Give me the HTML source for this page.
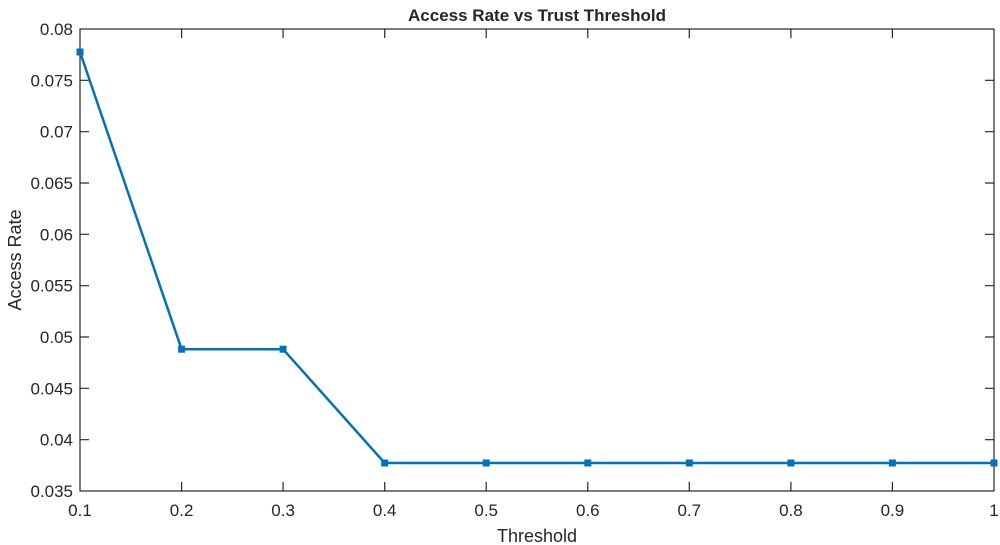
<!DOCTYPE html>
<html><head><style>body{margin:0;background:#fff}svg{display:block}text{font-family:"Liberation Sans",Arial,sans-serif;fill:#262626}</style></head>
<body>
<svg width="1000" height="545" xmlns="http://www.w3.org/2000/svg">
<rect width="1000" height="545" fill="#fff"/>
<g stroke="#262626" stroke-width="1.2" fill="none">
<rect x="80" y="29" width="914" height="462"/>
<!-- x ticks -->
<g id="xt">
<path d="M181.6 491v-9M283.1 491v-9M384.7 491v-9M486.2 491v-9M587.8 491v-9M689.3 491v-9M790.9 491v-9M892.4 491v-9"/>
<path d="M181.6 29v9M283.1 29v9M384.7 29v9M486.2 29v9M587.8 29v9M689.3 29v9M790.9 29v9M892.4 29v9"/>
<path d="M80 80.3h9M80 131.7h9M80 183h9M80 234.3h9M80 285.7h9M80 337h9M80 388.3h9M80 439.7h9"/>
<path d="M994 80.3h-9M994 131.7h-9M994 183h-9M994 234.3h-9M994 285.7h-9M994 337h-9M994 388.3h-9M994 439.7h-9"/>
</g>
</g>
<g font-size="17" text-anchor="middle">
<text x="80" y="516">0.1</text><text x="181.6" y="516">0.2</text><text x="283.1" y="516">0.3</text><text x="384.7" y="516">0.4</text><text x="486.2" y="516">0.5</text><text x="587.8" y="516">0.6</text><text x="689.3" y="516">0.7</text><text x="790.9" y="516">0.8</text><text x="892.4" y="516">0.9</text><text x="994" y="516">1</text>
</g>
<g font-size="17" text-anchor="end">
<text x="73" y="35">0.08</text><text x="73" y="86.3">0.075</text><text x="73" y="137.7">0.07</text><text x="73" y="189">0.065</text><text x="73" y="240.3">0.06</text><text x="73" y="291.7">0.055</text><text x="73" y="343">0.05</text><text x="73" y="394.3">0.045</text><text x="73" y="445.7">0.04</text><text x="73" y="497">0.035</text>
</g>
<text x="537" y="542" font-size="18" text-anchor="middle">Threshold</text>
<text transform="translate(21,260) rotate(-90)" font-size="18" text-anchor="middle">Access Rate</text>
<text x="537" y="21" font-size="17" font-weight="bold" text-anchor="middle" fill="#000">Access Rate vs Trust Threshold</text>
<polyline fill="none" stroke="#0072BD" stroke-width="2.5" points="80,52 181.6,349.2 283.1,349.2 384.7,463 486.2,463 587.8,463 689.3,463 790.9,463 892.4,463 994,463"/>
<g fill="#0072BD">
<rect x="76.5" y="48.5" width="7" height="7"/><rect x="178.1" y="345.7" width="7" height="7"/><rect x="279.6" y="345.7" width="7" height="7"/><rect x="381.2" y="459.5" width="7" height="7"/><rect x="482.7" y="459.5" width="7" height="7"/><rect x="584.3" y="459.5" width="7" height="7"/><rect x="685.8" y="459.5" width="7" height="7"/><rect x="787.4" y="459.5" width="7" height="7"/><rect x="888.9" y="459.5" width="7" height="7"/><rect x="990.5" y="459.5" width="7" height="7"/>
</g>
</svg>
</body></html>
